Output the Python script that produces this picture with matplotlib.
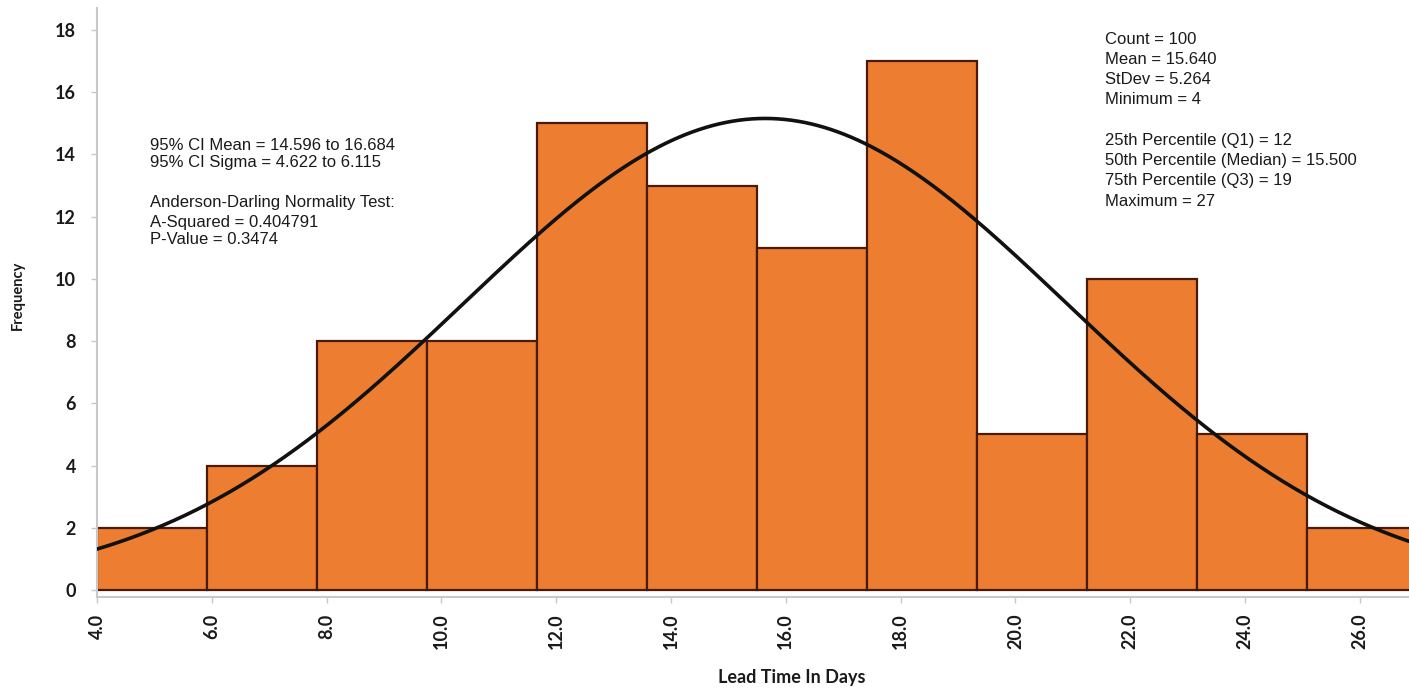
import numpy as np
import matplotlib
matplotlib.use("Agg")
import matplotlib.pyplot as plt

# Lead time sample summary
bin_start = 4.0
bin_end = 27.0
counts = [2, 4, 8, 8, 15, 13, 11, 17, 5, 10, 5, 2]
x_ticks = [4.0, 6.0, 8.0, 10.0, 12.0, 14.0, 16.0, 18.0, 20.0, 22.0, 24.0, 26.0]
y_ticks = [0, 2, 4, 6, 8, 10, 12, 14, 16, 18]

n_count = 100
mean = 15.640
stdev = 5.264
curve_bin = 2.0

left_lines = [
    "95% CI Mean = 14.596 to 16.684",
    "95% CI Sigma = 4.622 to 6.115",
    "Anderson-Darling Normality Test:",
    "A-Squared = 0.404791",
    "P-Value = 0.3474",
]
right_lines = [
    "Count = 100",
    "Mean = 15.640",
    "StDev = 5.264",
    "Minimum = 4",
    "25th Percentile (Q1) = 12",
    "50th Percentile (Median) = 15.500",
    "75th Percentile (Q3) = 19",
    "Maximum = 27",
]

W, H = 1409, 688
fig = plt.figure(figsize=(W / 100, H / 100), dpi=100)
fig.patch.set_facecolor("white")

# axes frame in pixel terms
ax_l, ax_r, ax_b, ax_t = 97, 1409, 597, 8
ax = fig.add_axes([ax_l / W, (H - ax_b) / H, (ax_r - ax_l) / W, (ax_b - ax_t) / H])

px_per_x = 57.4
px_per_y = 31.11
y0_px = 590
ax.set_xlim(bin_start, bin_start + (ax_r - ax_l) / px_per_x)
ax.set_ylim(-(ax_b - y0_px) / px_per_y, (y0_px - ax_t) / px_per_y)

edges = np.linspace(bin_start, bin_end, len(counts) + 1)
widths = np.diff(edges)
ax.bar(edges[:-1], counts, width=widths, align="edge",
       color="#ED7D31", edgecolor="#4a1a08", linewidth=1.6, zorder=2)

xs = np.linspace(bin_start, bin_end, 600)
pdf = np.exp(-0.5 * ((xs - mean) / stdev) ** 2) / (stdev * np.sqrt(2 * np.pi))
ax.plot(xs, n_count * curve_bin * pdf, color="#111111", linewidth=2.6, zorder=3)

# axes styling
for side in ("top", "right"):
    ax.spines[side].set_visible(False)
for side in ("left", "bottom"):
    ax.spines[side].set_color("#c8c8c8")
    ax.spines[side].set_linewidth(1.5)

tick_font = dict(family="Lato", weight="bold", size=13)
ax.set_xticks(x_ticks)
ax.set_xticklabels([f"{v:.1f}" for v in x_ticks], rotation=90, **tick_font)
ax.set_yticks(y_ticks)
ax.set_yticklabels([str(v) for v in y_ticks], **tick_font)
ax.tick_params(axis="both", colors="#c8c8c8", length=4, width=1, labelcolor="#1a1a1a")
ax.tick_params(axis="x", pad=8)
ax.tick_params(axis="y", pad=11)

fig.text(18 / W, 1 - 295 / H, "Frequency", rotation=90, ha="center", va="center",
         family="Lato", weight="bold", size=10.5, color="#1a1a1a")
fig.text(792 / W, 1 - 678 / H, "Lead Time In Days", ha="center", va="center",
         family="Lato", weight="bold", size=13, color="#1a1a1a")

txt = dict(family="Liberation Sans", size=12, color="#1a1a1a", ha="left", va="center")
for line, ypx in zip(left_lines, [145, 163, 202, 222, 240]):
    fig.text(150 / W, 1 - ypx / H, line, **txt)
for line, ypx in zip(right_lines, [39, 59, 79, 99, 141, 161, 181, 201]):
    fig.text(1105 / W, 1 - ypx / H, line, **txt)

fig.savefig("out.png", dpi=100, facecolor="white")
